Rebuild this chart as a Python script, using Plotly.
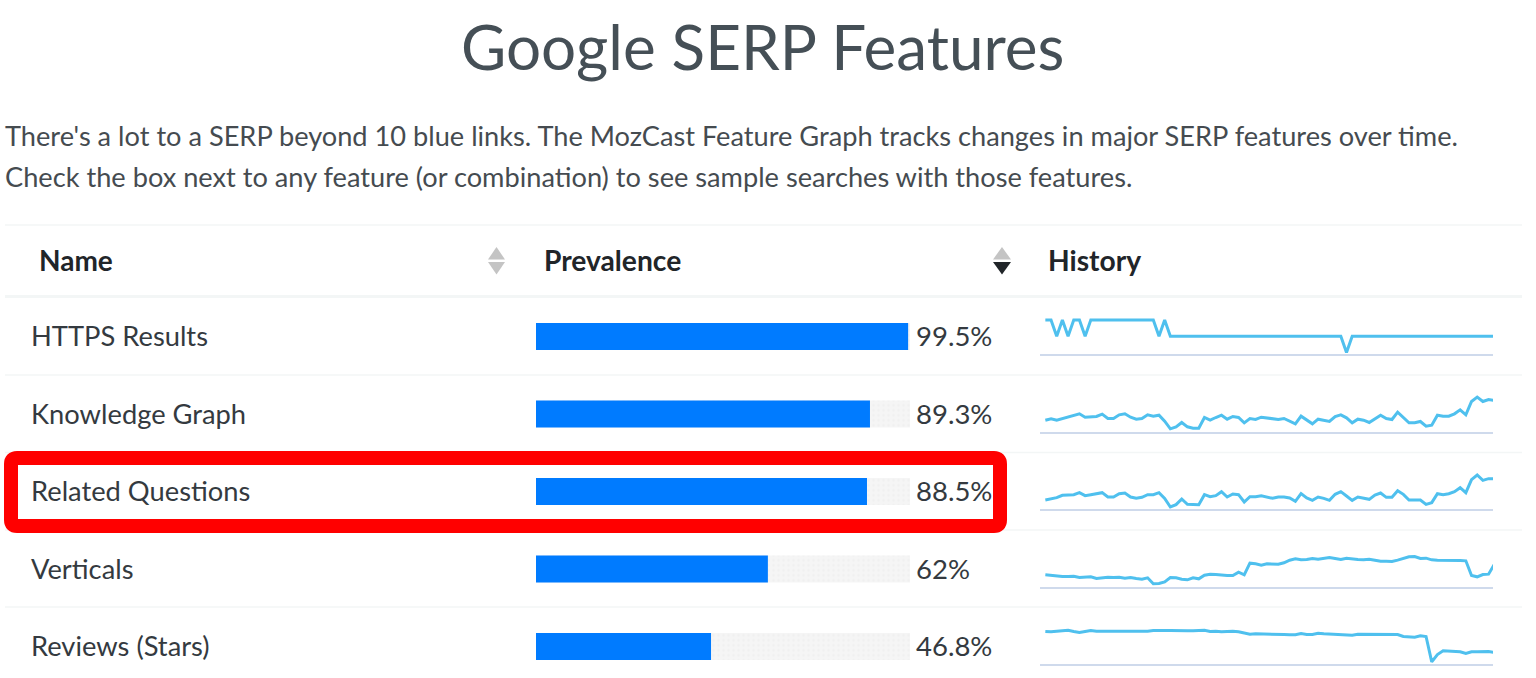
import plotly.graph_objects as go

# Feature table
features = ['HTTPS Results', 'Knowledge Graph', 'Related Questions', 'Verticals', 'Reviews (Stars)']
prevalence = [99.5, 89.3, 88.5, 62, 46.8]

# History sparklines
https_history = [100, 100, 99.5, 100, 99.5, 100, 100, 99.5] + [100] * 12 + [99.5, 100] + [99.5] * 31 + [99] + [99.5] * 26
knowledge_history = [34, 38, 34, 39, 45, 48, 53, 43, 45, 45, 52, 39, 39, 50, 53, 43, 37, 39, 50, 46,
                     49, 31, 8, 14, 27, 14, 10, 10, 42, 34, 42, 49, 37, 45, 42, 26, 39, 36, 43, 40,
                     37, 36, 39, 32, 23, 46, 34, 23, 37, 34, 30, 45, 50, 41, 26, 37, 34, 27, 39, 49,
                     39, 36, 58, 43, 26, 26, 30, 16, 19, 49, 46, 46, 53, 65, 50, 90, 103, 90, 96, 93]
related_history = [27, 30, 34, 41, 43, 43, 49, 40, 43, 47, 49, 36, 36, 46, 48, 36, 32, 35, 43, 43,
                   49, 32, 6, 13, 30, 14, 13, 13, 43, 37, 40, 52, 36, 45, 43, 21, 37, 37, 40, 36,
                   32, 36, 36, 33, 23, 46, 33, 26, 36, 32, 26, 44, 52, 39, 26, 36, 33, 29, 42, 48,
                   35, 35, 55, 44, 27, 27, 27, 14, 19, 46, 43, 46, 52, 64, 49, 88, 102, 86, 91, 91]
verticals_history = [35, 33, 32, 30, 30, 31, 27, 27, 29, 24, 27, 28, 27, 28, 25, 27, 24, 22, 26, 8,
                     9, 14, 27, 26, 22, 20, 26, 23, 34, 37, 36, 34, 33, 33, 43, 35, 70, 68, 64, 68,
                     67, 67, 71, 79, 83, 80, 81, 84, 82, 84, 87, 84, 81, 85, 82, 81, 80, 82, 79, 76,
                     76, 75, 79, 84, 89, 90, 84, 85, 80, 79, 79, 80, 79, 78, 77, 33, 29, 36, 37, 66]
reviews_history = [96, 95, 97, 98, 100, 96, 93, 96, 99, 97, 97, 96, 96, 95, 96, 95, 97, 97, 97, 99,
                   100, 99, 99, 98, 97, 98, 98, 99, 100, 96, 97, 95, 97, 97, 95, 92, 88, 89, 89, 89,
                   87, 87, 87, 86, 86, 90, 87, 87, 91, 89, 88, 87, 87, 87, 85, 88, 88, 87, 88, 89,
                   89, 89, 87, 81, 79, 79, 83, 81, 5, 27, 38, 37, 38, 35, 30, 35, 35, 35, 36, 33]
histories = [https_history, knowledge_history, related_history, verticals_history, reviews_history]
history_ranges = [[98.95, 100.187], [0, 120], [0, 120], [0, 120], [0, 120]]

W, H = 1536, 678
FONT = 'Lato'
TEXT = '#343a40'
row_y = [335.5, 413, 490.5, 568, 645.5]
spark_base = [354, 431.5, 509, 586.5, 663.5]


def px_x(a, b):
    return [a / W, b / W]


def px_y(top, bottom):
    return [1 - bottom / H, 1 - top / H]


fig = go.Figure()

# Invisible pixel axes hold the text and the table furniture
fig.add_trace(go.Scatter(x=[0], y=[0], mode='markers', marker=dict(opacity=0), xaxis='x', yaxis='y',
                         hoverinfo='skip', showlegend=False))

# Prevalence bars
fig.add_trace(go.Bar(y=list(range(5)), x=[100] * 5, orientation='h', width=0.348, xaxis='x2', yaxis='y2',
                     marker=dict(color='#f5f5f5', line_width=0,
                                 pattern=dict(shape='.', fgcolor='#e9e9e9', bgcolor='#f5f5f5', size=5, solidity=0.2)),
                     hoverinfo='skip', showlegend=False))
fig.add_trace(go.Bar(y=list(range(5)), x=prevalence, orientation='h', width=0.348, xaxis='x2', yaxis='y2',
                     marker=dict(color='#007bff', line_width=0), showlegend=False))

layout_axes = dict(
    xaxis=dict(domain=[0, 1], range=[0, W], visible=False, fixedrange=True),
    yaxis=dict(domain=[0, 1], range=[H, 0], visible=False, fixedrange=True),
    xaxis2=dict(domain=px_x(536, 910), range=[0, 100], visible=False, anchor='y2', fixedrange=True),
    yaxis2=dict(domain=px_y(297.75, 678), range=[4.406, -0.5], visible=False, anchor='x2', fixedrange=True),
)

# History sparklines
for i, hist in enumerate(histories):
    n = i + 3
    fig.add_trace(go.Scatter(x=list(range(len(hist))), y=hist, mode='lines', xaxis=f'x{n}', yaxis=f'y{n}',
                             line=dict(color='#4fc0ee', width=3), showlegend=False))
    layout_axes[f'xaxis{n}'] = dict(domain=px_x(1040, 1493), range=[-0.94, 78.78], anchor=f'y{n}',
                                    showgrid=False, zeroline=False, showticklabels=False, ticks='',
                                    showline=True, linecolor='#cfdaec', linewidth=1.5, fixedrange=True)
    layout_axes[f'yaxis{n}'] = dict(domain=px_y(spark_base[i] - 40, spark_base[i]), range=history_ranges[i],
                                    anchor=f'x{n}', visible=False, fixedrange=True)


def label(x, y, text, size, color=TEXT, anchor='left', bold=False):
    return dict(x=x, y=y, xref='x', yref='y', text=f'<b>{text}</b>' if bold else text, showarrow=False,
                xanchor=anchor, yanchor='middle', align='left',
                font=dict(family=FONT, size=size, color=color))


annotations = [
    label(762, 46, 'Google SERP Features', 62, '#454f56', 'center'),
    label(3, 135, "There's a lot to a SERP beyond 10 blue links. The MozCast Feature Graph tracks changes in major SERP features over time.", 27.2, '#454b50'),
    label(3, 176, 'Check the box next to any feature (or combination) to see sample searches with those features.', 27.2, '#454b50'),
    label(36.5, 260, 'Name', 28, '#212529', bold=True),
    label(542, 260, 'Prevalence', 28.2, '#212529', bold=True),
    label(1045.5, 260, 'History', 28.2, '#212529', bold=True),
]
for name, pct, y in zip(features, prevalence, row_y):
    annotations.append(label(28.5, y, name, 27.3))
    annotations.append(label(913.5, y, f'{pct:g}%', 27.5))


def hline(y, width, color='#f3f6f6'):
    return dict(type='line', xref='x', yref='y', x0=5, x1=1522, y0=y, y1=y, layer='below',
                line=dict(color=color, width=width))


def triangle(x0, x1, y_base, y_tip, color):
    return dict(type='path', xref='x', yref='y', line_width=0, fillcolor=color,
                path=f'M{x0},{y_base} L{x1},{y_base} L{(x0 + x1) / 2},{y_tip} Z')


shapes = [hline(225, 1.5), hline(296.5, 3), hline(375, 1.5), hline(452.5, 1.5), hline(530, 1.5), hline(607, 1.5)]
shapes += [
    triangle(488, 505, 259.5, 247, '#c4c4c4'),
    triangle(488, 505, 262, 274.5, '#c4c4c4'),
    triangle(993, 1011, 259.5, 247, '#c4c4c4'),
    triangle(993, 1011, 262, 274.5, '#212529'),
    # Red highlight round the Related Questions row
    dict(type='path', xref='x', yref='y', fillcolor='rgba(0,0,0,0)', line=dict(color='#ff0000', width=14),
         path='M17,458 L994,458 Q1000,458 1000,464 L1000,520 Q1000,526 994,526 L17,526 Q11,526 11,520 L11,464 Q11,458 17,458 Z'),
]

fig.update_layout(
    width=W, height=H, margin=dict(l=0, r=0, t=0, b=0),
    paper_bgcolor='white', plot_bgcolor='rgba(0,0,0,0)',
    barmode='overlay', showlegend=False, hovermode=False,
    annotations=annotations, shapes=shapes,
    **layout_axes
)

fig.write_html("out.html", config=dict(displayModeBar=False),
               post_script="document.body.style.margin='0';document.body.style.overflow='hidden';")
